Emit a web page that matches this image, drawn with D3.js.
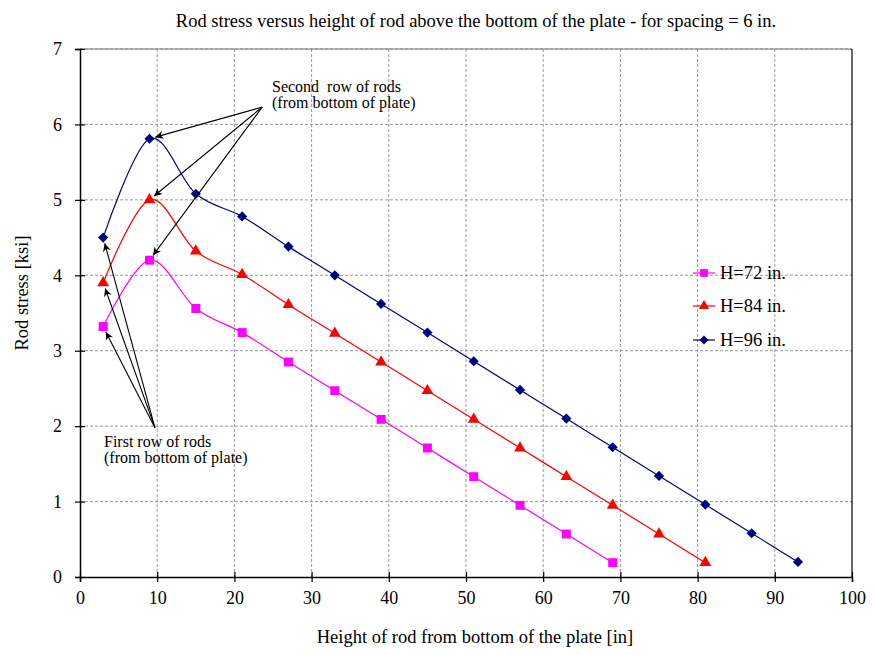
<!DOCTYPE html>
<html>
<head>
<meta charset="utf-8">
<script src="https://cdn.jsdelivr.net/npm/d3@7/dist/d3.min.js"></script>
<style>
  body { margin: 0; background: #fff; }
  svg { display: block; font-family: "Liberation Serif", "Times New Roman", serif; }
</style>
</head>
<body>
<svg id="chart" width="875" height="655"></svg>
<script>
const xH72 = [3, 9, 15, 21, 27, 33, 39, 45, 51, 57, 63, 69];
const yH72 = [3.32, 4.2, 3.56, 3.24, 2.85, 2.47, 2.09, 1.71, 1.33, 0.95, 0.57, 0.19];
const xH84 = [3, 9, 15, 21, 27, 33, 39, 45, 51, 57, 63, 69, 75, 81];
const yH84 = [3.9, 5.0, 4.32, 4.01, 3.61, 3.23, 2.85, 2.47, 2.09, 1.71, 1.33, 0.95, 0.57, 0.19];
const xH96 = [3, 9, 15, 21, 27, 33, 39, 45, 51, 57, 63, 69, 75, 81, 87, 93];
const yH96 = [4.5, 5.81, 5.08, 4.78, 4.38, 4.0, 3.62, 3.24, 2.86, 2.48, 2.1, 1.72, 1.34, 0.96, 0.58, 0.2];
const seriesNames = ["H=72 in.", "H=84 in.", "H=96 in."];
const xTicks = [0, 10, 20, 30, 40, 50, 60, 70, 80, 90, 100];
const yTicks = [0, 1, 2, 3, 4, 5, 6, 7];
const titleText = "Rod stress versus height of rod above the bottom of the plate - for spacing = 6 in.";
const xLabel = "Height of rod from bottom of the plate [in]";
const yLabel = "Rod stress [ksi]";
const noteSecond = ["Second  row of rods", "(from bottom of plate)"];
const noteFirst = ["First row of rods", "(from bottom of plate)"];

const svg = d3.select("#chart");
const x = d3.scaleLinear().domain([0, 100]).range([80, 852]);
const y = d3.scaleLinear().domain([0, 7]).range([577, 49]);

const diamond = {
  draw(ctx, size) {
    const r = Math.sqrt(size / 2);
    ctx.moveTo(0, -r); ctx.lineTo(r, 0); ctx.lineTo(0, r); ctx.lineTo(-r, 0); ctx.closePath();
  }
};

const series = [
  { name: seriesNames[0], xs: xH72, ys: yH72, color: "#FF00FF", symbol: d3.symbolSquare, size: 80 },
  { name: seriesNames[1], xs: xH84, ys: yH84, color: "#FF0000", symbol: d3.symbolTriangle, size: 60 },
  { name: seriesNames[2], xs: xH96, ys: yH96, color: "#000080", symbol: diamond, size: 52 }
];

// grid
const grid = svg.append("g");
grid.selectAll("line.v").data(xTicks.slice(1, -1)).join("line")
  .attr("x1", d => x(d)).attr("x2", d => x(d))
  .attr("y1", y(0)).attr("y2", y(7))
  .attr("stroke", "#999").attr("stroke-dasharray", "3,2").attr("stroke-width", 1);
grid.selectAll("line.h").data(yTicks.slice(1)).join("line")
  .attr("x1", x(0)).attr("x2", x(100))
  .attr("y1", d => y(d)).attr("y2", d => y(d))
  .attr("stroke", "#999").attr("stroke-dasharray", "3,2").attr("stroke-width", 1);

// plot border (top/right)
svg.append("line").attr("x1", x(0)).attr("x2", x(100)).attr("y1", y(7)).attr("y2", y(7))
  .attr("stroke", "#777").attr("stroke-width", 1);
svg.append("line").attr("x1", x(100)).attr("x2", x(100)).attr("y1", y(7)).attr("y2", y(0))
  .attr("stroke", "#000").attr("stroke-width", 1.2);

// axes
const xAxis = svg.append("g").attr("transform", `translate(0,${y(0)})`)
  .call(d3.axisBottom(x).tickValues(xTicks).tickFormat(d3.format("d")).tickSize(5).tickPadding(9));
const yAxis = svg.append("g").attr("transform", `translate(${x(0)},0)`)
  .call(d3.axisLeft(y).tickValues(yTicks).tickFormat(d3.format("d")).tickSize(5).tickPadding(13));
[xAxis, yAxis].forEach(a => {
  a.select(".domain").attr("stroke", "#000").attr("stroke-width", 1.5);
  a.selectAll(".tick line").attr("stroke", "#000").attr("stroke-width", 1.2);
  a.selectAll(".tick text").attr("font-size", 18).attr("font-family", "Liberation Serif").attr("fill", "#000");
});
// crossing ticks
xAxis.selectAll(".tick line").attr("y1", -5).attr("y2", 5);
yAxis.selectAll(".tick line").attr("x1", 5).attr("x2", -5);

// series lines
const line = d3.line().curve(d3.curveCatmullRom.alpha(0)).x(d => x(d[0])).y(d => y(d[1]));
series.forEach(s => {
  const pts = s.xs.map((v, i) => [v, s.ys[i]]);
  svg.append("path").datum(pts).attr("d", line)
    .attr("fill", "none").attr("stroke", s.color).attr("stroke-width", 1.2);
  svg.append("g").selectAll("path").data(pts).join("path")
    .attr("transform", d => `translate(${x(d[0])},${y(d[1])})`)
    .attr("d", d3.symbol().type(s.symbol).size(s.size))
    .attr("fill", s.color);
});

// arrows
const defs = svg.append("defs");
defs.append("marker").attr("id", "arr").attr("viewBox", "0 0 10 10")
  .attr("refX", 10).attr("refY", 5).attr("markerWidth", 10).attr("markerHeight", 8)
  .attr("markerUnits", "userSpaceOnUse").attr("orient", "auto")
  .append("path").attr("d", "M0,0 L10,5 L0,10 L3,5 Z").attr("fill", "#000");

function arrow(ox, oy, tx, ty, shorten) {
  const x0 = x(ox), y0 = y(oy), x1 = x(tx), y1 = y(ty);
  const len = Math.hypot(x1 - x0, y1 - y0);
  const ex = x1 - (x1 - x0) * shorten / len, ey = y1 - (y1 - y0) * shorten / len;
  svg.append("line").attr("x1", x0).attr("y1", y0).attr("x2", ex).attr("y2", ey)
    .attr("stroke", "#000").attr("stroke-width", 1.1).attr("marker-end", "url(#arr)");
}
const secondOrigin = [23.6, 6.23];
const firstOrigin = [9.7, 1.98];
series.forEach(s => {
  arrow(secondOrigin[0], secondOrigin[1], s.xs[1], s.ys[1], 6);
  arrow(firstOrigin[0], firstOrigin[1], s.xs[0], s.ys[0], 6);
});

// annotation texts
const ann = svg.append("g").attr("font-size", 16).attr("fill", "#000");
noteSecond.forEach((t, i) => ann.append("text").attr("x", 272).attr("y", 92 + i * 16).text(t).style("white-space", "pre"));
noteFirst.forEach((t, i) => ann.append("text").attr("x", 104).attr("y", 447 + i * 16).text(t));

// legend
const legY = [273, 306, 340];
series.forEach((s, i) => {
  const g = svg.append("g").attr("transform", `translate(704,${legY[i]})`);
  g.append("line").attr("x1", -11).attr("x2", 11).attr("stroke", s.color).attr("stroke-width", 1.2);
  g.append("path").attr("d", d3.symbol().type(s.symbol).size(s.size * 0.75)).attr("fill", s.color);
  g.append("text").attr("x", 16).attr("y", 6).attr("font-size", 18.5).text(s.name);
});

// titles
svg.append("text").attr("x", 476).attr("y", 27).attr("text-anchor", "middle")
  .attr("font-size", 18.5).text(titleText);
svg.append("text").attr("x", 475).attr("y", 643).attr("text-anchor", "middle")
  .attr("font-size", 18.5).text(xLabel);
svg.append("text").attr("transform", "translate(28,293) rotate(-90)").attr("text-anchor", "middle")
  .attr("font-size", 18.5).text(yLabel);
</script>
</body>
</html>
